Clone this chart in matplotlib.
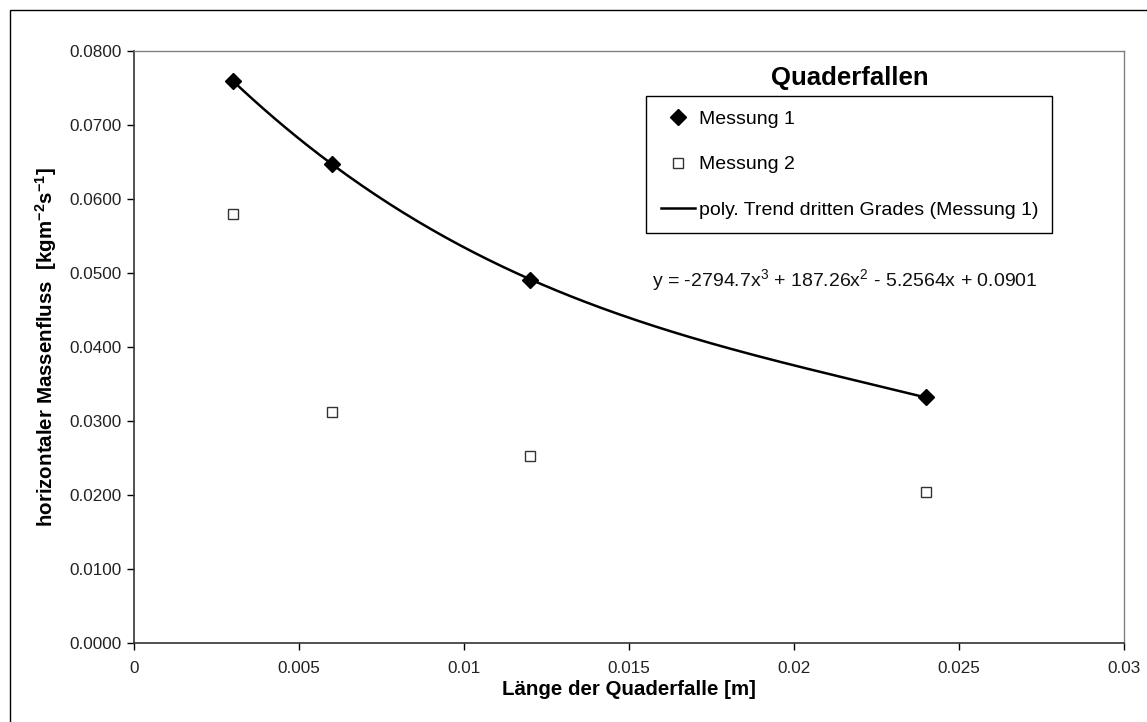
import numpy as np
import matplotlib
matplotlib.use("Agg")
import matplotlib.pyplot as plt
from matplotlib.patches import Rectangle
from matplotlib.lines import Line2D

plt.rcParams['font.family'] = ['Liberation Sans', 'DejaVu Sans']
plt.rcParams['mathtext.fontset'] = 'custom'
plt.rcParams['mathtext.rm'] = 'Liberation Sans'
plt.rcParams['mathtext.it'] = 'Liberation Sans'
plt.rcParams['mathtext.bf'] = 'Liberation Sans:bold'

# data
laenge = [0.003, 0.006, 0.012, 0.024]
messung1 = [0.0759, 0.0647, 0.0491, 0.0332]
messung2 = [0.0580, 0.0312, 0.0253, 0.0204]
trend_coeffs = [-2794.7, 187.26, -5.2564, 0.0901]
x_ticks = [0, 0.005, 0.01, 0.015, 0.02, 0.025, 0.03]
x_ticklabels = ['0', '0.005', '0.01', '0.015', '0.02', '0.025', '0.03']
y_ticks = [0.0, 0.01, 0.02, 0.03, 0.04, 0.05, 0.06, 0.07, 0.08]

W, H = 1147, 722
fig = plt.figure(figsize=(W / 100, H / 100), dpi=100)
fig.patch.set_facecolor('white')
ax = fig.add_axes([134 / W, 1 - 643 / H, (1124 - 134) / W, (643 - 51) / H])

# outer chart border
fig.add_artist(Rectangle((10 / W, -0.2), 2, 1 - 10 / H + 0.2, transform=fig.transFigure,
                         fill=False, edgecolor='black', lw=1.0))

xt = np.linspace(laenge[0], laenge[-1], 200)
yt = np.polyval(trend_coeffs, xt)
ax.plot(xt, yt, color='black', lw=1.8, zorder=2)
ax.plot(laenge, messung1, linestyle='none', marker='D', markersize=8,
        color='black', zorder=3)
ax.plot(laenge, messung2, linestyle='none', marker='s', markersize=7.5,
        markerfacecolor='white', markeredgecolor='#333333', markeredgewidth=1.0, zorder=3)

ax.set_xlim(0, 0.03)
ax.set_ylim(0, 0.08)
ax.set_xticks(x_ticks)
ax.set_xticklabels(x_ticklabels)
ax.set_yticks(y_ticks)
ax.set_yticklabels(['%.4f' % v for v in y_ticks])
ax.tick_params(axis='both', direction='out', length=5, width=1, labelsize=12.3,
               colors='black', labelcolor='#222222')
ax.tick_params(axis='x', pad=8)
ax.tick_params(axis='y', pad=4)

for s in ['top', 'right']:
    ax.spines[s].set_color('#808080')
    ax.spines[s].set_linewidth(1.0)
for s in ['left', 'bottom']:
    ax.spines[s].set_color('#333333')
    ax.spines[s].set_linewidth(1.2)

ax.set_xlabel('Länge der Quaderfalle [m]', fontsize=14.8, fontweight='bold', labelpad=3)
ax.set_ylabel(r'horizontaler Massenfluss  [kgm$\mathbf{^{-2}}$s$\mathbf{^{-1}}$]',
              fontsize=14.8, fontweight='bold', labelpad=7)

# title above legend
fig.text(850 / W, 1 - 78 / H, 'Quaderfallen', fontsize=18.5, fontweight='bold',
         ha='center', va='center')

handles = [
    Line2D([], [], linestyle='none', marker='D', markersize=8, color='black'),
    Line2D([], [], linestyle='none', marker='s', markersize=7.5, markerfacecolor='white',
           markeredgecolor='#333333', markeredgewidth=1.0),
    Line2D([], [], color='black', lw=1.8),
]
labels = ['Messung 1', 'Messung 2', 'poly. Trend dritten Grades (Messung 1)']
leg = ax.legend(handles, labels, loc='upper left',
                bbox_to_anchor=(646 / W, 1 - 231 / H, (1052 - 646) / W, (231 - 96) / H),
                bbox_transform=fig.transFigure, mode='expand',
                fontsize=14, frameon=True, fancybox=False, framealpha=1,
                edgecolor='black', borderpad=0.75, labelspacing=1.42,
                handlelength=1.75, handletextpad=0.25, borderaxespad=0)
leg.get_frame().set_linewidth(1.0)

fig.text(652 / W, 1 - 280 / H,
         r'y = -2794.7x$^3$ + 187.26x$^2$ - 5.2564x + 0.0901',
         fontsize=14, ha='left', va='center', color='#111111')

fig.savefig('out.png', dpi=100, facecolor='white')
